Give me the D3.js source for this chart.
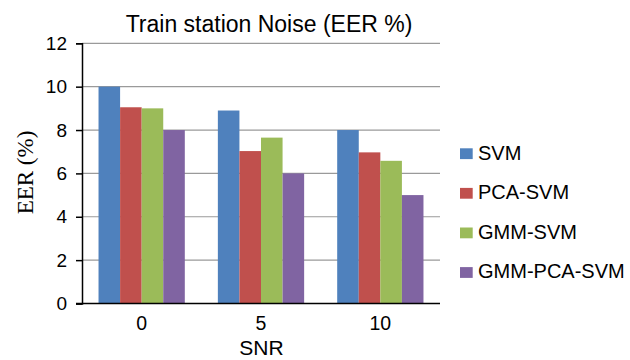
<!DOCTYPE html>
<html>
<head>
<meta charset="utf-8">
<script src="https://cdn.jsdelivr.net/npm/d3@7/dist/d3.min.js"></script>
<style>
  html, body { margin: 0; padding: 0; background: #fff; }
  svg text { font-family: "Liberation Sans", Arial, Helvetica, sans-serif; fill: #000; }
</style>
</head>
<body>
<svg id="chart" width="630" height="360"></svg>
<script>
// Equal error rate per SNR level for each method
const categories = ["0", "5", "10"];
const seriesNames = ["SVM", "PCA-SVM", "GMM-SVM", "GMM-PCA-SVM"];
const svmValues = [10.0, 8.9, 8.0];
const pcaSvmValues = [9.05, 7.03, 6.97];
const gmmSvmValues = [9.0, 7.65, 6.58];
const gmmPcaSvmValues = [8.0, 6.0, 5.0];
const yTicks = [0, 2, 4, 6, 8, 10, 12];
const colors = ["#4F81BD", "#C0504D", "#9BBB59", "#8064A2"];

const seriesValues = [svmValues, pcaSvmValues, gmmSvmValues, gmmPcaSvmValues];
const rows = categories.map((c, i) => ({
  cat: c,
  values: seriesNames.map((s, j) => ({ key: s, value: seriesValues[j][i], color: colors[j] }))
}));

const svg = d3.select("#chart");
const plot = { left: 82, right: 440, top: 43.3, bottom: 303.5 };

const y = d3.scaleLinear().domain([0, 12]).range([plot.bottom, plot.top]);
const x0 = d3.scaleBand().domain(categories).range([plot.left, plot.right])
  .paddingInner(0.277).paddingOuter(0.1385);
const x1 = d3.scaleBand().domain(seriesNames).range([0, x0.bandwidth()]);

// horizontal gridlines
svg.append("g")
  .selectAll("line")
  .data(yTicks.filter(d => d > 0))
  .join("line")
  .attr("x1", plot.left).attr("x2", plot.right)
  .attr("y1", d => y(d)).attr("y2", d => y(d))
  .attr("stroke", "#9a9a9a").attr("stroke-width", 1.2);

// bars
svg.append("g")
  .selectAll("g")
  .data(rows)
  .join("g")
  .attr("transform", d => `translate(${x0(d.cat)},0)`)
  .selectAll("rect")
  .data(d => d.values)
  .join("rect")
  .attr("x", d => x1(d.key))
  .attr("width", x1.bandwidth())
  .attr("y", d => y(d.value))
  .attr("height", d => y(0) - y(d.value))
  .attr("fill", d => d.color);

// y axis
const yAxis = svg.append("g")
  .attr("transform", `translate(${plot.left},0)`)
  .call(d3.axisLeft(y).tickValues(yTicks).tickSize(6).tickPadding(9).tickFormat(d3.format("d")));
yAxis.select(".domain").attr("stroke", "#000").attr("stroke-width", 1.5);
yAxis.selectAll(".tick line").attr("stroke", "#000").attr("stroke-width", 1.5);
yAxis.selectAll(".tick text").style("font-size", "19px").attr("fill", "#000");

// x axis
const xAxis = svg.append("g")
  .attr("transform", `translate(0,${plot.bottom})`)
  .call(d3.axisBottom(x0).tickSize(0).tickPadding(13).tickSizeOuter(0));
xAxis.select(".domain").attr("stroke", "#000").attr("stroke-width", 1.5)
  .attr("d", `M${plot.left - 6},0H${plot.right}`);
xAxis.selectAll(".tick text").style("font-size", "19.5px").attr("fill", "#000");

// title
svg.append("text")
  .attr("x", 269).attr("y", 32)
  .attr("text-anchor", "middle")
  .style("font-size", "23px")
  .text("Train station Noise (EER %)");

// axis titles
svg.append("text")
  .attr("x", 261.5).attr("y", 355)
  .attr("text-anchor", "middle")
  .style("font-size", "21px")
  .text("SNR");

svg.append("text")
  .attr("transform", "translate(33,172.5) rotate(-90)")
  .attr("text-anchor", "middle")
  .style("font-family", "'Liberation Serif', 'Times New Roman', serif")
  .style("font-size", "23px")
  .text("EER (%)");

// legend
const legend = svg.append("g")
  .selectAll("g")
  .data(seriesNames)
  .join("g")
  .attr("transform", (d, i) => `translate(460,${148.3 + i * 39.6})`);
legend.append("rect")
  .attr("width", 12.7).attr("height", 10.8)
  .attr("fill", (d, i) => colors[i]);
legend.append("text")
  .attr("x", 18).attr("y", 11.2)
  .style("font-size", "20px")
  .text(d => d);
</script>
</body>
</html>
